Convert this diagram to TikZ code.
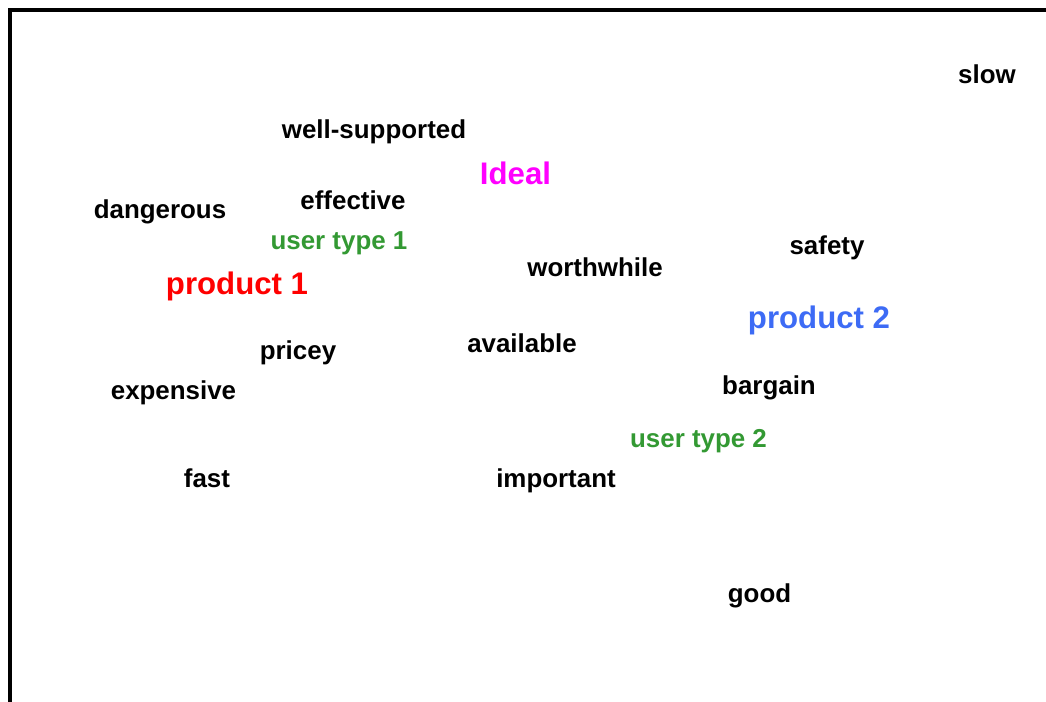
\documentclass[tikz,border=0pt]{standalone}
\usepackage{fontspec}
\setmainfont{Liberation Sans}
\definecolor{idealmag}{RGB}{255,0,255}
\definecolor{prodred}{RGB}{255,0,0}
\definecolor{prodblue}{RGB}{61,107,245}
\definecolor{usergreen}{RGB}{51,153,51}
\tikzset{
  lbl/.style={anchor=base, inner sep=0pt, font=\fontsize{26}{30}\selectfont\bfseries, text=black},
  biglbl/.style={anchor=base, inner sep=0pt, font=\fontsize{31.3}{36}\selectfont\bfseries},
  userlbl/.style={lbl, text=usergreen},
  frameline/.style={line width=4bp, draw=black, line join=miter}
}
\begin{document}
\begin{tikzpicture}[x=1bp,y=-1bp]
\useasboundingbox (0,0) rectangle (1046,702);
\draw[frameline] (10,702) -- (10,10) -- (1046,10);
\node[lbl] (slow) at (987,84) {slow};
\node[lbl] (wellsup) at (374,138.5) {well-supported};
\node[biglbl, text=idealmag] (ideal) at (515.5,185) {Ideal};
\node[lbl] (effective) at (353,209.5) {effective};
\node[lbl] (dangerous) at (160,218.5) {dangerous};
\node[userlbl] (ut1) at (339,249.5) {user type 1};
\node[lbl] (safety) at (827,254.5) {safety};
\node[lbl] (worthwhile) at (595,276.5) {worthwhile};
\node[biglbl, text=prodred] (prod1) at (237,294) {product 1};
\node[biglbl, text=prodblue] (prod2) at (819,328) {product 2};
\node[lbl] (available) at (522,352.5) {available};
\node[lbl] (pricey) at (298,359.5) {pricey};
\node[lbl] (bargain) at (769,394.5) {bargain};
\node[lbl] (expensive) at (173.5,399.5) {expensive};
\node[userlbl] (ut2) at (698.5,447.5) {user type 2};
\node[lbl] (fast) at (207,487.5) {fast};
\node[lbl] (important) at (556,487.5) {important};
\node[lbl] (good) at (759.5,602.5) {good};
\end{tikzpicture}
\end{document}
